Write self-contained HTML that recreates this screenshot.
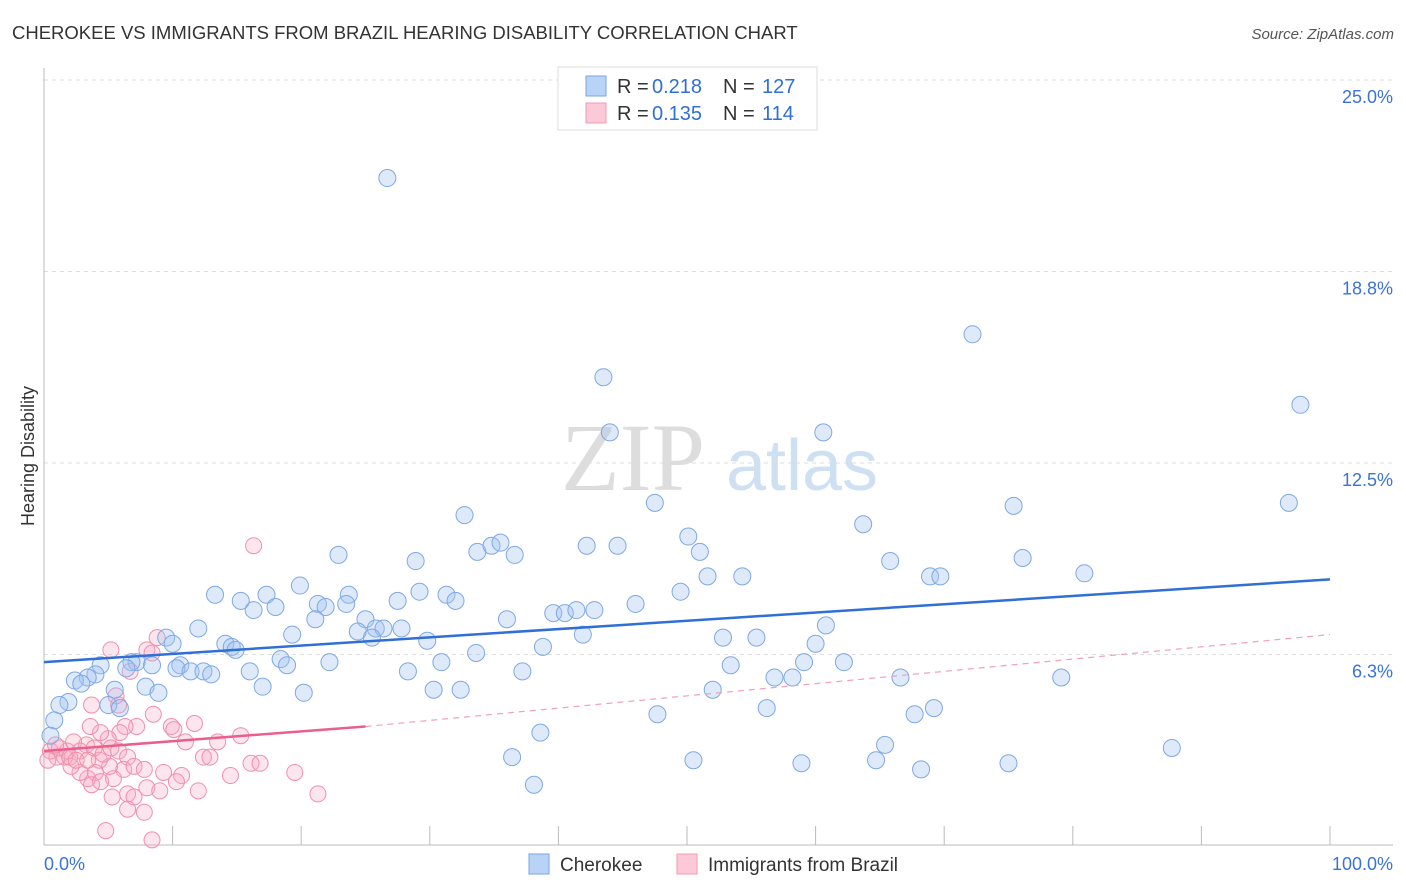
<!DOCTYPE html>
<html><head><meta charset="utf-8"><style>
body{margin:0;background:#fff;font-family:"Liberation Sans",sans-serif}
svg{display:block}
</style></head><body>
<svg id="chart" width="1406" height="892" xmlns="http://www.w3.org/2000/svg">
<text x="12" y="39" font-size="18.5" fill="#333">CHEROKEE VS IMMIGRANTS FROM BRAZIL HEARING DISABILITY CORRELATION CHART</text>
<text x="1394" y="39" font-size="15" fill="#555" font-style="italic" text-anchor="end">Source: ZipAtlas.com</text>
<g><text x="633" y="490" font-size="96" fill="#ddd" font-family="Liberation Serif,serif" text-anchor="middle">ZIP</text><text x="802" y="490" font-size="72" fill="#cfe0f3" text-anchor="middle">atlas</text></g>
<g id="grid"></g>
<g id="axes"></g>
<g id="marks"></g>
<text transform="translate(34,456) rotate(-90)" font-size="18" fill="#333" text-anchor="middle">Hearing Disability</text>
<g>
<rect x="558" y="67" width="259" height="63" fill="#fff" stroke="#ddd"/>
<rect x="586" y="76" width="20" height="20" fill="#b9d3f6" stroke="#7aa6e6"/>
<rect x="586" y="103" width="20" height="20" fill="#fcc9d8" stroke="#f09ab4"/>
<text x="617" y="93" font-size="20" fill="#333">R =</text>
<text x="652" y="93" font-size="20" fill="#2f6fd6">0.218</text>
<text x="723" y="93" font-size="20" fill="#333">N =</text>
<text x="762" y="93" font-size="20" fill="#2f6fd6">127</text>
<text x="617" y="120" font-size="20" fill="#333">R =</text>
<text x="652" y="120" font-size="20" fill="#2f6fd6">0.135</text>
<text x="723" y="120" font-size="20" fill="#333">N =</text>
<text x="762" y="120" font-size="20" fill="#2f6fd6">114</text>
</g>
<g>
<rect x="529" y="854" width="20" height="20" fill="#b9d3f6" stroke="#7aa6e6"/>
<text x="560" y="871" font-size="19" fill="#333">Cherokee</text>
<rect x="677" y="854" width="20" height="20" fill="#fcc9d8" stroke="#f09ab4"/>
<text x="708" y="871" font-size="19" fill="#333">Immigrants from Brazil</text>
</g>
</svg>
<script>
const yTicks=[25,18.75,12.5,6.25];
const yTickLabels=["25.0%","18.8%","12.5%","6.3%"];
const xTicks=[0,10,20,30,40,50,60,70,80,90,100];
const blueX=[26.7,72.2,43.5,97.7,44.0,60.6,47.5,96.8,75.4,32.7,63.7,50.1,22.9,28.9,33.7,34.8,35.5,36.6,42.2,44.6,51.0,65.8,76.1,51.6,54.3,68.9,69.7,80.9,49.5,19.9,13.3,15.3,17.3,18.0,16.3,21.3,21.9,23.7,23.5,27.5,29.2,31.3,32.0,39.6,40.5,41.4,42.8,46.0,36.0,21.1,25.0,25.8,26.4,27.8,24.4,25.5,29.8,19.3,12.0,14.1,14.6,14.9,9.5,10.0,41.9,38.8,33.6,52.8,55.4,60.8,60.0,59.1,62.2,53.4,30.9,22.2,18.4,18.9,10.6,10.3,11.4,12.4,13.0,16.0,28.3,37.2,7.2,8.4,6.8,6.4,4.4,4.0,3.4,2.4,2.9,5.5,7.9,8.9,17.0,20.2,30.3,32.4,52.0,56.8,58.2,66.6,79.1,1.9,1.2,5.0,5.9,0.8,47.7,56.2,67.7,69.2,38.6,65.4,87.7,36.4,50.5,58.9,64.7,68.2,75.0,38.1,0.5];
const blueY=[21.8,16.7,15.3,14.4,13.5,13.5,11.2,11.2,11.1,10.8,10.5,10.1,9.5,9.3,9.6,9.8,9.9,9.5,9.8,9.8,9.6,9.3,9.4,8.8,8.8,8.8,8.8,8.9,8.3,8.5,8.2,8.0,8.2,7.8,7.7,7.9,7.8,8.2,7.9,8.0,8.3,8.2,8.0,7.6,7.6,7.7,7.7,7.9,7.4,7.4,7.4,7.1,7.1,7.1,7.0,6.8,6.7,6.9,7.1,6.6,6.5,6.4,6.8,6.6,6.9,6.5,6.3,6.8,6.8,7.2,6.6,6.0,6.0,5.9,6.0,6.0,6.1,5.9,5.9,5.8,5.7,5.7,5.6,5.7,5.7,5.7,6.0,5.9,6.0,5.8,5.9,5.6,5.5,5.4,5.3,5.1,5.2,5.0,5.2,5.0,5.1,5.1,5.1,5.5,5.5,5.5,5.5,4.7,4.6,4.6,4.5,4.1,4.3,4.5,4.3,4.5,3.7,3.3,3.2,2.9,2.8,2.7,2.8,2.5,2.7,2.0,3.6];
const pinkX=[16.3,5.2,8.8,8.0,8.4,6.7,3.7,5.8,5.6,8.5,9.9,10.1,11.7,11.0,13.5,15.3,12.4,12.9,16.1,16.8,14.5,19.5,9.3,10.7,8.0,6.5,7.0,7.8,9.0,10.3,12.0,21.3,6.5,5.3,4.8,8.4,7.2,6.3,5.9,5.0,4.4,3.6,3.3,5.8,6.5,6.2,5.4,5.1,4.3,4.0,3.4,2.8,2.1,1.6,1.0,0.5,0.3,2.3,1.8,1.2,2.8,3.9,4.6,5.2,2.0,2.5,3.4,0.9,3.7,4.4,7.0,7.8];
const pinkY=[9.8,6.4,6.8,6.4,6.3,5.7,4.6,4.6,4.9,4.3,3.9,3.8,4.0,3.4,3.4,3.6,2.9,2.9,2.7,2.7,2.3,2.4,2.4,2.3,1.9,1.7,1.6,1.1,1.8,2.1,1.8,1.7,1.2,1.6,0.5,0.2,3.9,3.9,3.7,3.5,3.7,3.9,3.3,3.1,2.9,2.5,2.2,2.6,2.8,2.4,2.2,2.4,2.6,2.9,2.9,3.1,2.8,3.4,3.1,3.2,3.1,3.2,3.0,3.2,2.9,2.8,2.8,3.3,2.0,2.1,2.6,2.5];
const blueTrend=[0,6.0,100,8.7];
const pinkTrend=[0,3.1,25,3.9,100,6.9];
const X=v=>44+v*12.86, Y=v=>80+(25-v)*30.64;
const NS="http://www.w3.org/2000/svg";
function mk(p,t,a){const e=document.createElementNS(NS,t);for(const k in a)e.setAttribute(k,a[k]);document.getElementById(p).appendChild(e);return e;}
yTicks.forEach((t,i)=>{
 const l=mk('grid','line',{x1:44,x2:1393,y1:Y(t),y2:Y(t),stroke:'#ddd','stroke-dasharray':'4,4'});
 
 
 const tx=mk('grid','text',{x:1393,y:Y(t)+23,'font-size':18,fill:'#3a72d8','text-anchor':'end'});
 tx.textContent=yTickLabels[i];
 
 
});
const ax=mk('axes','line',{x1:44,x2:44,y1:68,y2:845,stroke:'#bbb'});


const bx=mk('axes','line',{x1:44,x2:1393,y1:845,y2:845,stroke:'#bbb'});


xTicks.forEach(t=>{const l=mk('axes','line',{x1:X(t),x2:X(t),y1:826,y2:845,stroke:'#bbb'});
 
 });
const x0=mk('axes','text',{x:44,y:870,'font-size':18,fill:'#3a72d8'});x0.textContent=xTicks[0].toFixed(1)+'%';


const x1=mk('axes','text',{x:1393,y:870,'font-size':18,fill:'#3a72d8','text-anchor':'end'});x1.textContent=xTicks[10].toFixed(1)+'%';


pinkX.forEach((v,i)=>{const c=mk('marks','circle',{cx:X(v),cy:Y(pinkY[i]),r:8,fill:'rgba(248,170,195,0.3)',stroke:'#f08fae','stroke-width':1});
 
 });
blueX.forEach((v,i)=>{const c=mk('marks','circle',{cx:X(v),cy:Y(blueY[i]),r:8.5,fill:'rgba(160,195,240,0.35)',stroke:'#7fa8e4','stroke-width':1});
 
 });
const bt=mk('marks','line',{x1:X(blueTrend[0]),y1:Y(blueTrend[1]),x2:X(blueTrend[2]),y2:Y(blueTrend[3]),stroke:'#2f6fd6','stroke-width':2.5});


const pt=mk('marks','line',{x1:X(pinkTrend[0]),y1:Y(pinkTrend[1]),x2:X(pinkTrend[2]),y2:Y(pinkTrend[3]),stroke:'#ea5f8c','stroke-width':2.5});


const pd=mk('marks','line',{x1:X(pinkTrend[2]),y1:Y(pinkTrend[3]),x2:X(pinkTrend[4]),y2:Y(pinkTrend[5]),stroke:'#f0a0ba','stroke-width':1.2,'stroke-dasharray':'6,5'});


</script>
</body></html>
